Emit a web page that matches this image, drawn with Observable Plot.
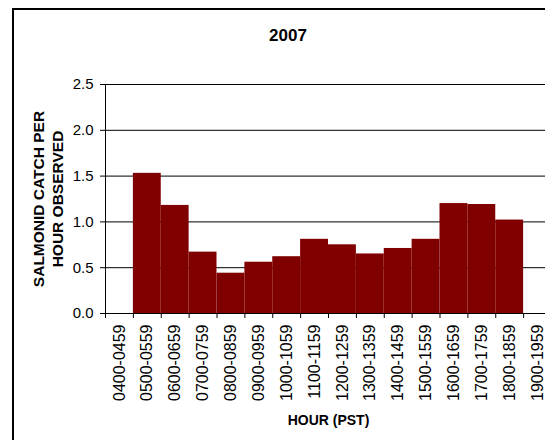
<!DOCTYPE html>
<html><head><meta charset="utf-8">
<script src="https://cdn.jsdelivr.net/npm/d3@7"></script>
<script src="https://cdn.jsdelivr.net/npm/@observablehq/plot@0.6"></script>
<style>
html,body{margin:0;padding:0;background:#fff;}
#wrap{position:relative;width:545px;height:440px;overflow:hidden;}
#border{position:absolute;left:12px;top:8px;width:600px;height:500px;border:2px solid #000;box-sizing:border-box;}
#chart{position:absolute;left:0;top:0;width:560px;height:440px;}
#chart svg{max-width:none !important;}
</style></head><body>
<div id="wrap"><div id="border"></div><div id="chart"></div></div>
<script>
const title = "2007";
const hourLabels = ["0400-0459","0500-0559","0600-0659","0700-0759","0800-0859","0900-0959","1000-1059","1100-1159","1200-1259","1300-1359","1400-1459","1500-1559","1600-1659","1700-1759","1800-1859","1900-1959"];
const barHours = ["0500-0559","0600-0659","0700-0759","0800-0859","0900-0959","1000-1059","1100-1159","1200-1259","1300-1359","1400-1459","1500-1559","1600-1659","1700-1759","1800-1859"];
const catchRate = [1.53, 1.18, 0.67, 0.44, 0.56, 0.62, 0.81, 0.75, 0.65, 0.71, 0.81, 1.20, 1.19, 1.02];
const yTicks = [0, 0.5, 1, 1.5, 2, 2.5];
const xTitle = "HOUR (PST)";
const yTitle = "SALMONID CATCH PER\nHOUR OBSERVED";

const data = barHours.map((h, i) => ({hour: h, value: catchRate[i]}));
const font = "'Liberation Sans', Arial, sans-serif";
const W = 560, ML = 105, MR = 9;
const bw = (W - ML - MR) / hourLabels.length;

const chart = Plot.plot({
  width: W, height: 440,
  marginLeft: ML, marginRight: MR, marginTop: 84, marginBottom: 127,
  style: {fontFamily: font, fontSize: "15px", color: "#000", background: "transparent", maxWidth: "none"},
  x: {type: "band", domain: hourLabels, padding: 0, round: false, axis: null},
  y: {domain: [0, 2.5], axis: null},
  marks: [
    Plot.ruleY(yTicks.slice(1), {stroke: "#000", strokeWidth: 1}),
    Plot.barY(data, {x: "hour", y: "value", fill: "#800000", inset: 0}),
    Plot.frame({anchor: "left", stroke: "#000"}),
    Plot.ruleY([0], {stroke: "#000"}),
    Plot.axisY({ticks: yTicks, tickFormat: d3.format(".1f"), tickSize: 5, tickPadding: 7, fontSize: 15, label: null}),
    Plot.axisX({tickSize: 5, tickFormat: () => "", dx: -bw / 2, label: null}),
    Plot.axisX({tickSize: 0, tickPadding: 11, tickRotate: -90, fontSize: 16, label: null}),
    Plot.text([title], {text: d => d, frameAnchor: "top-left", dx: 182.5, dy: -48.5, textAnchor: "middle", lineAnchor: "middle", fontWeight: "bold", fontSize: 17}),
    Plot.text([yTitle], {text: d => d, frameAnchor: "left", rotate: -90, dx: -58, textAnchor: "middle", lineAnchor: "middle", fontWeight: "bold", fontSize: 15.5, lineHeight: 1.2}),
    Plot.text([xTitle], {text: d => d, frameAnchor: "bottom", dy: 107, textAnchor: "middle", lineAnchor: "middle", fontWeight: "bold", fontSize: 14})
  ]
});
document.getElementById("chart").appendChild(chart);
</script>
</body></html>
